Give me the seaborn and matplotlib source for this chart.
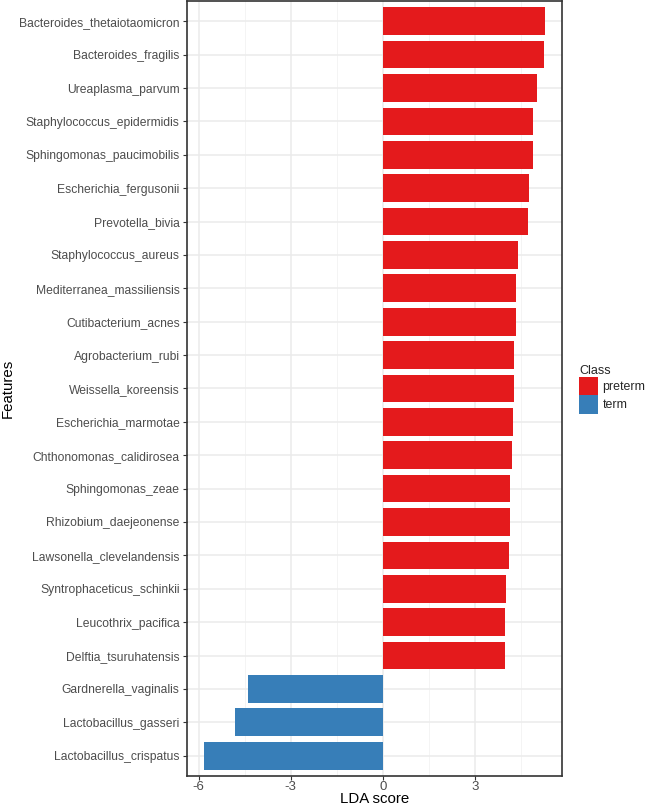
import matplotlib
matplotlib.use("Agg")
import matplotlib.pyplot as plt
import seaborn as sns
import pandas as pd
from matplotlib.patches import Patch

features = [
    "Bacteroides_thetaiotaomicron", "Bacteroides_fragilis", "Ureaplasma_parvum",
    "Staphylococcus_epidermidis", "Sphingomonas_paucimobilis", "Escherichia_fergusonii",
    "Prevotella_bivia", "Staphylococcus_aureus", "Mediterranea_massiliensis",
    "Cutibacterium_acnes", "Agrobacterium_rubi", "Weissella_koreensis",
    "Escherichia_marmotae", "Chthonomonas_calidirosea", "Sphingomonas_zeae",
    "Rhizobium_daejeonense", "Lawsonella_clevelandensis", "Syntrophaceticus_schinkii",
    "Leucothrix_pacifica", "Delftia_tsuruhatensis", "Gardnerella_vaginalis",
    "Lactobacillus_gasseri", "Lactobacillus_crispatus",
]
lda = [5.29, 5.24, 5.04, 4.88, 4.88, 4.75, 4.72, 4.42, 4.34, 4.34, 4.27, 4.27,
       4.24, 4.21, 4.15, 4.15, 4.12, 4.02, 3.99, 3.99, -4.39, -4.81, -5.83]
classes = ["preterm"] * 20 + ["term"] * 3
class_levels = ["preterm", "term"]
class_colors = ["#E41A1C", "#377EB8"]
x_ticks = [-6, -3, 0, 3]

df = pd.DataFrame({"Features": features, "LDA": lda, "Class": classes})

sns.set_theme(style="white")
plt.rcParams["font.family"] = ["Liberation Sans", "DejaVu Sans"]

fig = plt.figure(figsize=(6.45, 8.06), dpi=100)
ax = fig.add_axes([0.2894, 0.0376, 0.8718 - 0.2894, 0.9985 - 0.0376])

# grid
for v in [-4.5, -1.5, 1.5, 4.5]:
    ax.axvline(v, color="#F2F2F2", lw=0.6, zorder=0)
for v in x_ticks:
    ax.axvline(v, color="#EBEBEB", lw=1.1, zorder=0)
for i in range(len(features)):
    ax.axhline(i, color="#EBEBEB", lw=1.1, zorder=0)

sns.barplot(data=df, y="Features", x="LDA", hue="Class", order=features,
            hue_order=class_levels, palette=class_colors, dodge=False,
            width=0.83, orient="h", ax=ax, legend=False, zorder=2,
            edgecolor="none", linewidth=0, saturation=1)

ax.set_xlim(-6.39, 5.85)
ax.set_ylim(len(features) - 0.4, -0.6)
ax.set_xticks(x_ticks)
ax.set_xticklabels([str(t) for t in x_ticks])
ax.tick_params(axis="both", which="both", length=3, width=0.8, color="#333333",
               labelsize=8.75, labelcolor="#4D4D4D", pad=2, direction="out")
ax.tick_params(axis="x", pad=0.5, labelsize=9.5)
ax.xaxis.set_ticks_position("bottom")
ax.yaxis.set_ticks_position("left")
for s in ax.spines.values():
    s.set_color("#333333")
    s.set_linewidth(1.2)
ax.set_xlabel("LDA score", fontsize=10.8, color="black")
ax.set_ylabel("Features", fontsize=10.8, color="black")
ax.xaxis.set_label_coords(0.5, -0.0205)
ax.yaxis.set_label_coords(-0.458, 0.5)

handles = [Patch(facecolor=c, edgecolor="none") for c in class_colors]
leg = fig.legend(handles, class_levels, title="Class", loc="upper left",
                 bbox_to_anchor=(574 / 645, 1 - 360 / 806), frameon=False,
                 fontsize=8.9, title_fontsize=9, handlelength=1.55,
                 handleheight=1.9, handletextpad=0.35, labelspacing=0.0,
                 borderaxespad=0, alignment="left")

fig.savefig("out.png", dpi=100)
